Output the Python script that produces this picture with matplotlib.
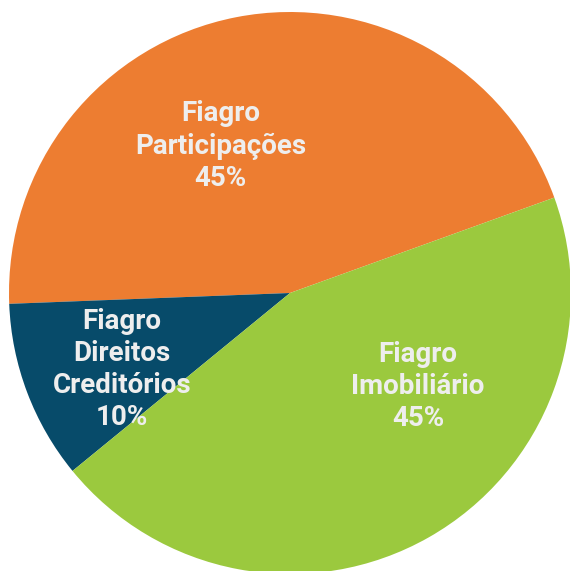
import matplotlib.pyplot as plt

# slices, counter-clockwise from the orange/green border
labels = ['Fiagro\nParticipações\n45%', 'Fiagro\nDireitos\nCreditórios\n10%', 'Fiagro\nImobiliário\n45%']
shares = [45.1, 10.3, 44.6]
colors = ['#ED7D31', '#074B6A', '#9BC93E']
label_xy = [(-0.246, 0.522), (-0.598, -0.272), (0.456, -0.333)]

fig = plt.figure(figsize=(5.70, 5.71), dpi=100)
ax = fig.add_axes([0, 0, 1, 1])

ax.pie(shares, colors=colors, startangle=19.85, counterclock=True,
       wedgeprops=dict(linewidth=0))

for txt, (x, y) in zip(labels, label_xy):
    ax.text(x, y, txt, ha='center', va='center', color='#EEEEEE',
            fontsize=20, fontweight='bold', family=['Roboto', 'DejaVu Sans'],
            linespacing=1.25)

# the circle runs off the right and bottom edges
ax.set_xlim(-290 / 281, 280 / 281)
ax.set_ylim(-278 / 281, 293 / 281)
ax.set_aspect('auto')
ax.axis('off')

fig.savefig('out.png', dpi=100)
